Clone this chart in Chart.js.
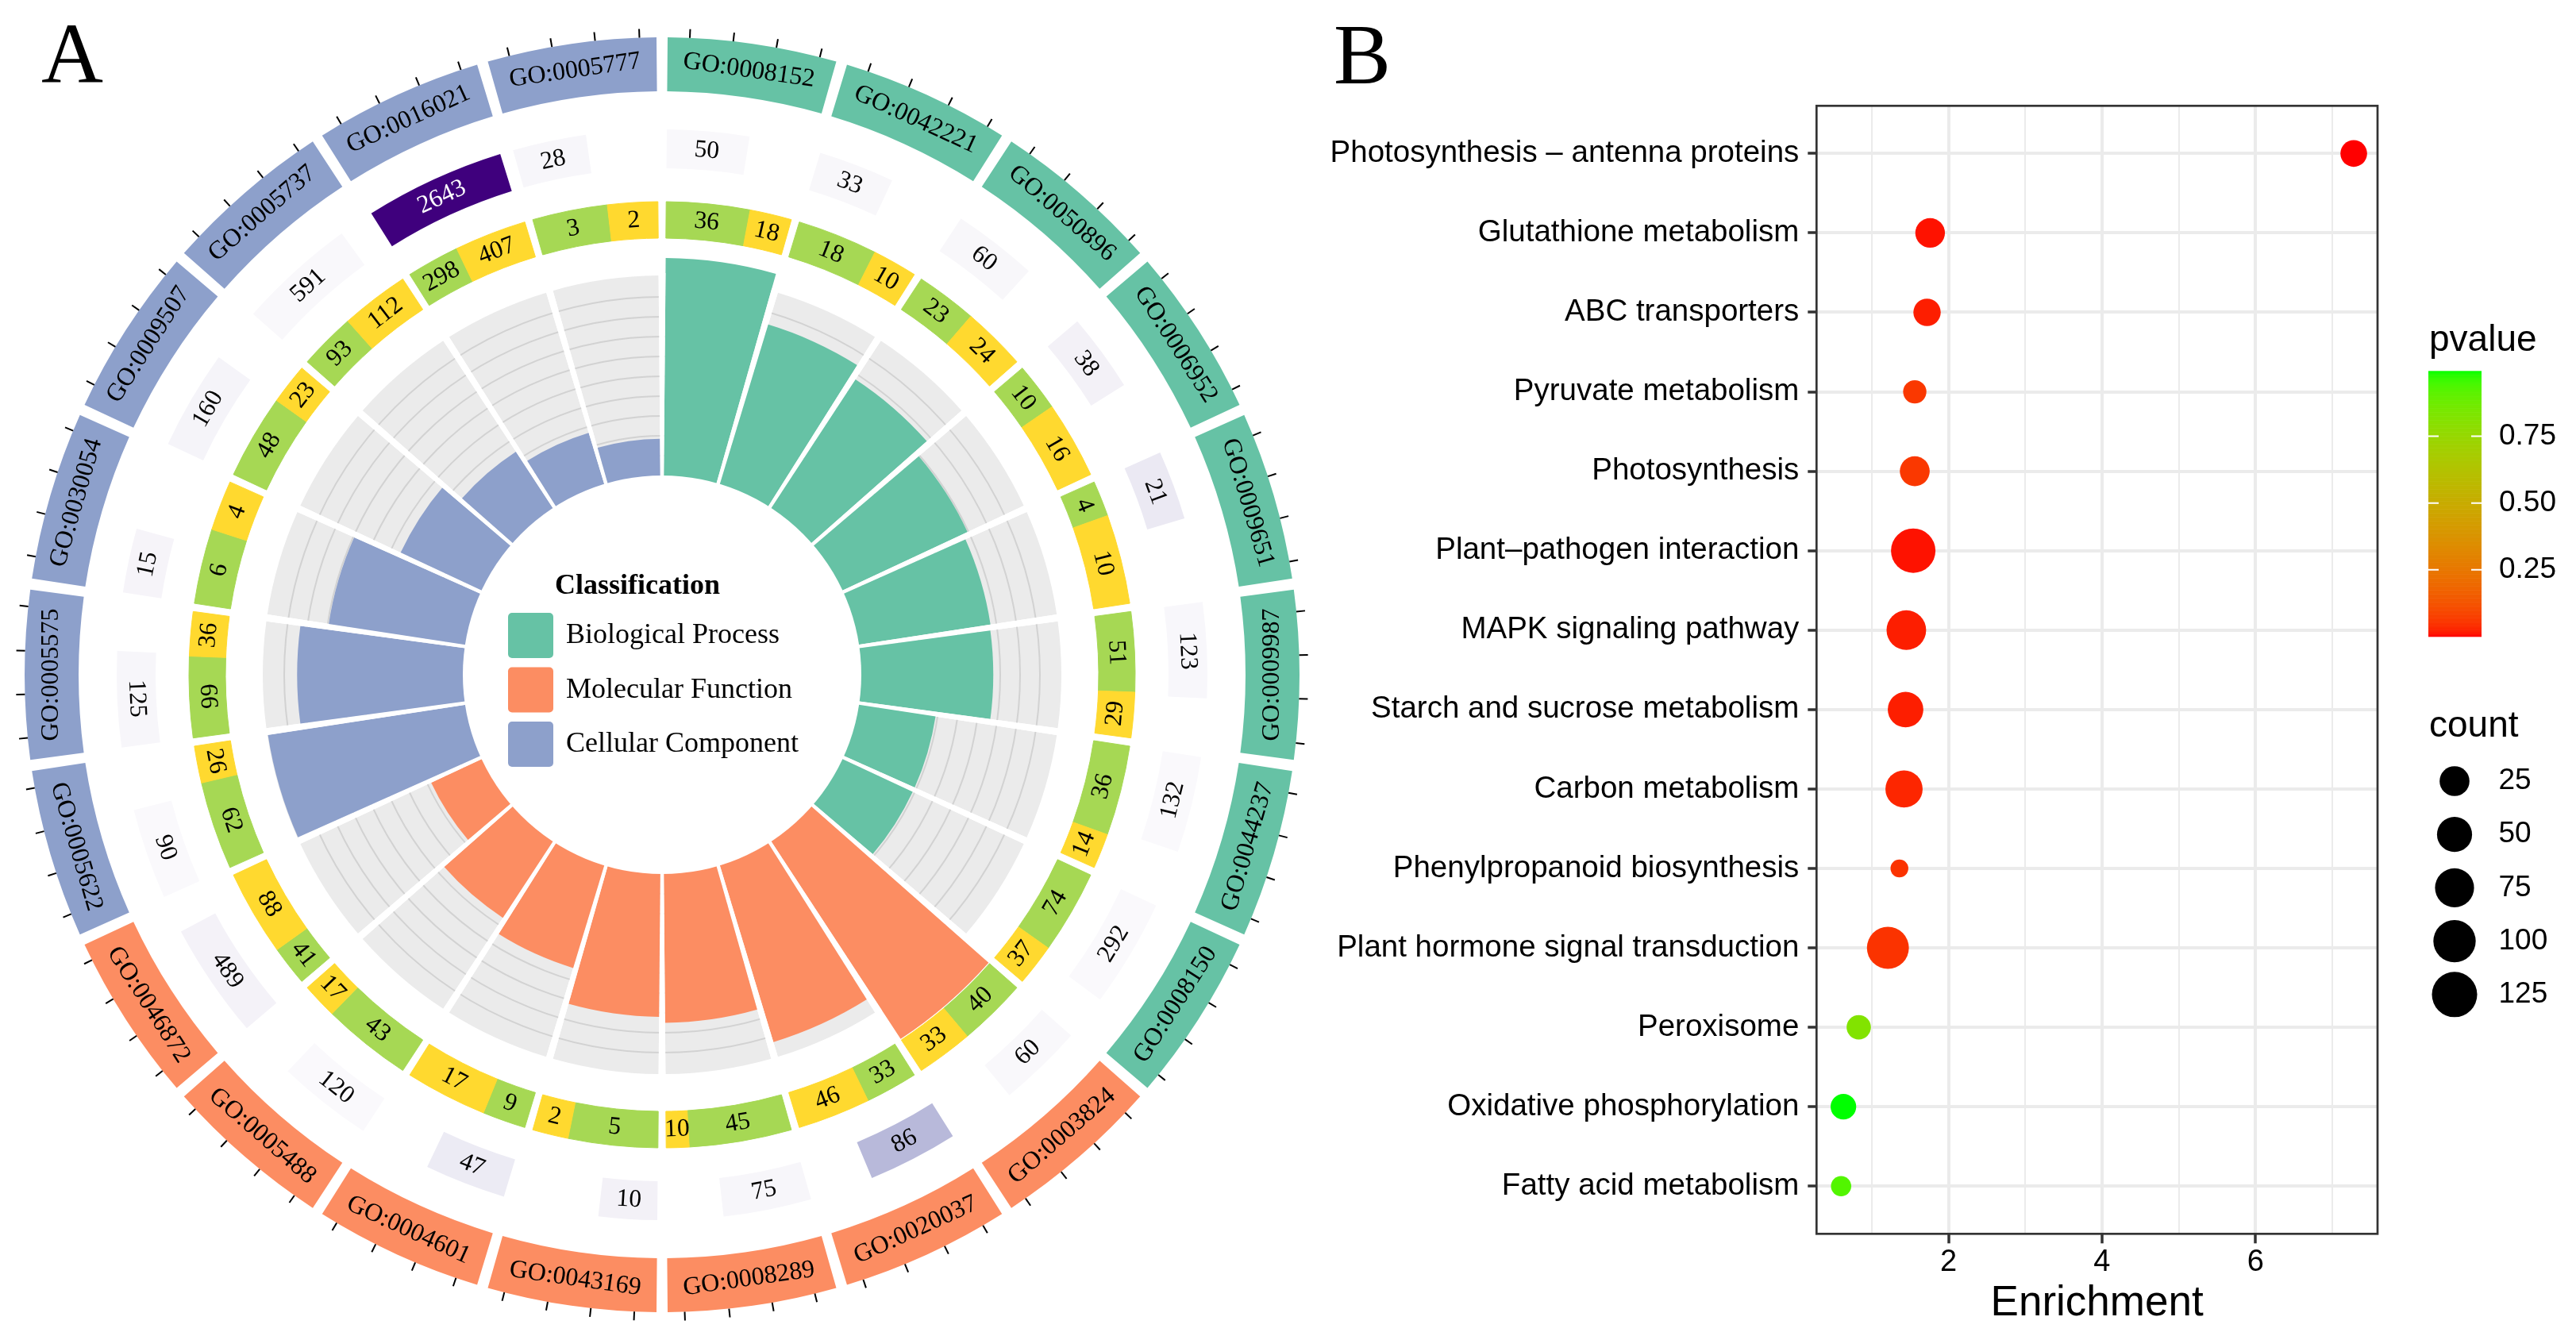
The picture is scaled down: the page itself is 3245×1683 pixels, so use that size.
<!DOCTYPE html>
<html><head><meta charset="utf-8">
<script src="https://cdn.jsdelivr.net/npm/chart.js@4.4.1/dist/chart.umd.min.js"></script>
<style>
html,body{margin:0;padding:0;background:#fff;}
#wrap{position:relative;width:3245px;height:1683px;overflow:hidden;background:#fff;}
canvas{position:absolute;}
.lbl{position:absolute;font-family:"Liberation Serif","Times New Roman",serif;font-size:108px;line-height:1;color:#000;}
</style></head><body>
<div id="wrap">
<canvas id="ringA" width="1668" height="1700" style="left:0;top:0;width:1668px;height:1700px"></canvas>
<canvas id="barA" width="1668" height="1700" style="left:0;top:0;width:1668px;height:1700px"></canvas>
<canvas id="dotB" width="1595" height="1683" style="left:1650px;top:0;width:1595px;height:1683px"></canvas>
<div class="lbl" style="left:52px;top:14px">A</div>
<div class="lbl" style="left:1680px;top:15px">B</div>
</div>
<script>
// ---------------- Panel A data ----------------
const goTerms = ['GO:0008152','GO:0042221','GO:0050896','GO:0006952','GO:0009651','GO:0009987','GO:0044237','GO:0008150',
  'GO:0003824','GO:0020037','GO:0008289','GO:0043169','GO:0004601','GO:0005488','GO:0046872',
  'GO:0005622','GO:0005575','GO:0030054','GO:0009507','GO:0005737','GO:0016021','GO:0005777'];
const goClass = ['BP','BP','BP','BP','BP','BP','BP','BP','MF','MF','MF','MF','MF','MF','MF','CC','CC','CC','CC','CC','CC','CC'];
const classNames = ['Biological Process','Molecular Function','Cellular Component'];
const termCounts = [50,33,60,38,21,123,132,292, 60,86,75,10,47,120,489, 90,125,15,160,591,2643,28];
const countShade = [0.03,0.04,0.04,0.09,0.15,0.035,0.02,0.02, 0.03,0.39,0.045,0.09,0.14,0.015,0.08, 0.015,0.045,0.06,0.065,0.03,1.0,0.045];
const upCounts   = [36,18,23,10,4,51,36,74, 40,33,45,5,9,43,41, 62,66,6,48,93,298,3];
const downCounts = [18,10,24,16,10,29,14,37, 33,46,10,2,17,17,88, 26,36,4,23,112,407,2];
const barValues  = [10.96,8.4,7.75,6.95,6.7,6.65,3.9,3.9, 11.9,9.3,7.5,7.2,5.4,4.6,2.8, 10.05,8.35,6.95,4.5,3.4,2.7,1.85];

// ---------------- Panel B data ----------------
const pathways = ['Photosynthesis – antenna proteins','Glutathione metabolism','ABC transporters','Pyruvate metabolism',
  'Photosynthesis','Plant–pathogen interaction','MAPK signaling pathway','Starch and sucrose metabolism',
  'Carbon metabolism','Phenylpropanoid biosynthesis','Plant hormone signal transduction','Peroxisome',
  'Oxidative phosphorylation','Fatty acid metabolism'];
const enrichment = [7.28,1.76,1.72,1.56,1.56,1.54,1.45,1.44,1.42,1.36,1.21,0.83,0.63,0.60];
const geneCount  = [14,24,16,6,25,118,79,53,63,1,97,8,11,2];
const pvalue     = [0.001,0.01,0.02,0.06,0.06,0.01,0.02,0.02,0.03,0.05,0.05,0.82,0.994,0.93];
const pBreaks = [0.25,0.50,0.75];
const countBreaks = [25,50,75,100,125];
const xTickValues = [1,2,3,4,5,6,7];

// ---------------- styles ----------------
const classColor = {BP:'#66C2A5', MF:'#FC8D62', CC:'#8DA0CB'};
const upColor = '#A6D854', downColor = '#FFD92F', bgGray = '#EBEBEB';
const SERIF = '"Liberation Serif","Times New Roman",serif';
const SANS = '"Liberation Sans",Arial,Helvetica,sans-serif';
const TRANSP = 'rgba(0,0,0,0)';
const N = goTerms.length, S = 360 / N, GAPDEG = 1, g = GAPDEG / S;
const R_OUT = 803, R_IN = 251, UNIT = 25, HALF = 834;

const purples = ['#FCFBFD','#EFEDF5','#DADAEB','#BCBDDC','#9E9AC8','#807DBA','#6A51A3','#54278F','#3F007D'];
function hex2rgb(h){return [parseInt(h.substr(1,2),16),parseInt(h.substr(3,2),16),parseInt(h.substr(5,2),16)];}
function purpleAt(t){
  t = Math.max(0, Math.min(1, t)); const p = t * (purples.length - 1); const i = Math.min(Math.floor(p), purples.length - 2); const f = p - i;
  const a = hex2rgb(purples[i]), b = hex2rgb(purples[i+1]);
  return 'rgb(' + a.map((v,j)=>Math.round(v + (b[j]-v)*f)).join(',') + ')';
}
function boxFrac(c){ return Math.min(0.98, 0.17 + 0.235 * Math.log10(c)); }

// Lab gradient red -> green (ggplot style)
function s2l(c){c/=255;return c<=0.04045?c/12.92:Math.pow((c+0.055)/1.055,2.4);}
function l2s(c){const v=c<=0.0031308?12.92*c:1.055*Math.pow(c,1/2.4)-0.055;return Math.round(Math.max(0,Math.min(1,v))*255);}
function rgb2lab(rgb){const R=s2l(rgb[0]),G=s2l(rgb[1]),B=s2l(rgb[2]);
  const X=(R*0.4124+G*0.3576+B*0.1805)/0.95047,Y=(R*0.2126+G*0.7152+B*0.0722),Z=(R*0.0193+G*0.1192+B*0.9505)/1.08883;
  const f=t=>t>0.008856?Math.cbrt(t):(7.787*t+16/116);return [116*f(Y)-16,500*(f(X)-f(Y)),200*(f(Y)-f(Z))];}
function lab2rgb(lab){const fy=(lab[0]+16)/116,fx=fy+lab[1]/500,fz=fy-lab[2]/200;
  const fi=t=>{const t3=t*t*t;return t3>0.008856?t3:(t-16/116)/7.787;};
  const X=fi(fx)*0.95047,Y=fi(fy),Z=fi(fz)*1.08883;
  return [l2s(3.2406*X-1.5372*Y-0.4986*Z),l2s(-0.9689*X+1.8758*Y+0.0415*Z),l2s(0.0557*X-0.2040*Y+1.0570*Z)];}
const LAB_LO = rgb2lab([255,0,0]), LAB_HI = rgb2lab([0,255,0]);
const P_MIN = Math.min(...pvalue), P_MAX = Math.max(...pvalue);
function pColor(p){const t=Math.max(0,Math.min(1,(p-P_MIN)/(P_MAX-P_MIN)));
  const c=lab2rgb(LAB_LO.map((v,i)=>v+(LAB_HI[i]-v)*t));return 'rgb('+c.join(',')+')';}
const C_MIN = Math.min(...geneCount);
function sizePx(c){ return 22.4 + 3.11*Math.sqrt(Math.max(0, c - C_MIN)); }

// ---------------- ring chart (doughnut) ----------------
const dsGO = {data:[], backgroundColor:[], borderWidth:0, weight:68};
const dsCount = {data:[], backgroundColor:[], borderWidth:0, weight:49};
const dsSplit = {data:[], backgroundColor:[], borderColor:[], borderWidth:1, weight:46};
const dsGray = {data:[], backgroundColor:[], borderWidth:0, weight:252};
goTerms.forEach((t,k)=>{
  dsGO.data.push(1-g, g); dsGO.backgroundColor.push(classColor[goClass[k]], TRANSP);
  const f = boxFrac(termCounts[k]);
  dsCount.data.push((1-g)*f, (1-g)*(1-f), g); dsCount.backgroundColor.push(purpleAt(countShade[k]), TRANSP, TRANSP);
  const tot = upCounts[k] + downCounts[k];
  dsSplit.data.push((1-g)*upCounts[k]/tot, (1-g)*downCounts[k]/tot, g);
  dsSplit.backgroundColor.push(upColor, downColor, TRANSP); dsSplit.borderColor.push(upColor, downColor, TRANSP);
  dsGray.data.push(1-g, g); dsGray.backgroundColor.push(bgGray, TRANSP);
});
const spacer = w => ({data:[1], backgroundColor:[TRANSP], borderWidth:0, weight:w});

function tangentText(ctx, cx, cy, r, phi, text){
  let th = phi + Math.PI/2; th = ((th % (2*Math.PI)) + 2*Math.PI) % (2*Math.PI);
  let rot = th;
  if (th >= Math.PI/2 - 0.01 && th < 3*Math.PI/2 - 0.01) rot += Math.PI;
  ctx.save(); ctx.translate(cx + r*Math.cos(phi), cy + r*Math.sin(phi)); ctx.rotate(rot);
  ctx.textAlign = 'center'; ctx.textBaseline = 'middle'; ctx.fillText(text, 0, 0); ctx.restore();
}
const tickFracs = [0.13, 0.385, 0.64, 0.9];
const ringText = {
  id:'ringText',
  afterDatasetsDraw(chart){
    const ctx = chart.ctx;
    const m0 = chart.getDatasetMeta(0).data, m2 = chart.getDatasetMeta(2).data, m4 = chart.getDatasetMeta(4).data;
    ctx.save();
    goTerms.forEach((t,k)=>{
      const e = m0[2*k];
      ctx.fillStyle = '#000'; ctx.font = '32px ' + SERIF;
      tangentText(ctx, e.x, e.y, (e.innerRadius+e.outerRadius)/2, (e.startAngle+e.endAngle)/2, t);
      ctx.strokeStyle = '#000'; ctx.lineWidth = 2;
      tickFracs.forEach(f=>{
        const a = e.startAngle + f*(e.endAngle - e.startAngle);
        ctx.beginPath();
        ctx.moveTo(e.x + e.outerRadius*Math.cos(a), e.y + e.outerRadius*Math.sin(a));
        ctx.lineTo(e.x + (e.outerRadius+11)*Math.cos(a), e.y + (e.outerRadius+11)*Math.sin(a));
        ctx.stroke();
      });
      const b = m2[3*k];
      ctx.fillStyle = countShade[k] > 0.6 ? '#fff' : '#000'; ctx.font = '31.5px ' + SERIF;
      tangentText(ctx, b.x, b.y, (b.innerRadius+b.outerRadius)/2, (b.startAngle+b.endAngle)/2, String(termCounts[k]));
      ctx.fillStyle = '#000';
      const u = m4[3*k], d = m4[3*k+1];
      tangentText(ctx, u.x, u.y, (u.innerRadius+u.outerRadius)/2, (u.startAngle+u.endAngle)/2, String(upCounts[k]));
      tangentText(ctx, d.x, d.y, (d.innerRadius+d.outerRadius)/2, (d.startAngle+d.endAngle)/2, String(downCounts[k]));
    });
    ctx.restore();
  }
};
new Chart(document.getElementById('ringA'), {
  type:'doughnut',
  data:{labels: goTerms, datasets:[dsGO, spacer(48), dsCount, spacer(42), dsSplit, spacer(47), dsGray]},
  options:{responsive:false, animation:false, events:[], devicePixelRatio:1,
    radius: R_OUT, cutout: (R_IN/R_OUT*100)+'%', rotation: GAPDEG/2,
    layout:{padding:0}, plugins:{legend:{display:false}, tooltip:{enabled:false}}},
  plugins:[ringText]
});

// ---------------- radial bars (polar area) ----------------
const polarData = [], polarColors = [], polarLabels = [];
goTerms.forEach((t,k)=>{
  polarData.push(barValues[k], 10.2); polarColors.push(classColor[goClass[k]], '#ffffff');
  polarLabels.push(t, '');
});
const RMIN = -R_IN/UNIT, RMAX = RMIN + HALF/UNIT;
const centerLegend = {
  id:'centerLegend',
  afterDatasetsDraw(chart){
    const sc = chart.scales.r, ctx = chart.ctx, cx = sc.xCenter, cy = sc.yCenter;
    ctx.save();
    ctx.fillStyle = '#fff'; ctx.beginPath(); ctx.arc(cx, cy, R_IN, 0, 2*Math.PI); ctx.fill();
    ctx.fillStyle = '#000'; ctx.textAlign = 'left'; ctx.textBaseline = 'alphabetic';
    ctx.font = 'bold 36px ' + SERIF; ctx.fillText('Classification', cx - 135, cy - 102);
    const cols = [classColor.BP, classColor.MF, classColor.CC];
    classNames.forEach((nm,i)=>{
      const top = cy - 78 + i*68.5;
      ctx.fillStyle = cols[i]; ctx.beginPath();
      if (ctx.roundRect) ctx.roundRect(cx - 194, top, 57, 57, 5); else ctx.rect(cx - 194, top, 57, 57);
      ctx.fill();
      ctx.fillStyle = '#000'; ctx.font = '36px ' + SERIF; ctx.fillText(nm, cx - 121, top + 38);
    });
    ctx.restore();
  }
};
new Chart(document.getElementById('barA'), {
  type:'polarArea',
  data:{labels: polarLabels, datasets:[{data: polarData, backgroundColor: polarColors, borderWidth:0,
    angle: c => (c.dataIndex % 2 === 0 ? S*(1-g) : S*g)}]},
  options:{responsive:false, animation:false, events:[], devicePixelRatio:1, layout:{padding:0},
    plugins:{legend:{display:false}, tooltip:{enabled:false}},
    scales:{r:{min:RMIN, max:RMAX, startAngle: GAPDEG/2, beginAtZero:false,
      ticks:{display:false}, angleLines:{display:false}, pointLabels:{display:false},
      grid:{circular:true, color:'#D2D2D2', lineWidth:2},
      afterBuildTicks: s => { s.ticks = [1,2,3,4,5,6,7,8,9].map(v=>({value:v})); }}}},
  plugins:[centerLegend]
});

// ---------------- Panel B (bubble) ----------------
const OFFX = 1650;
const panelB = {
  id:'panelB',
  afterDraw(chart){
    const ctx = chart.ctx, a = chart.chartArea;
    ctx.save();
    ctx.strokeStyle = '#333333'; ctx.lineWidth = 2.7; ctx.strokeRect(a.left, a.top, a.right - a.left, a.bottom - a.top);
    // colour bar
    const bx = 3059 - OFFX, bw = 67, btop = 467.3, bbot = 801.7, nb = 200;
    for (let i = 0; i < nb; i++){
      const p = P_MIN + (P_MAX - P_MIN)*(i + 0.5)/nb;
      const y0 = bbot - (bbot - btop)*(i+1)/nb;
      ctx.fillStyle = pColor(p); ctx.fillRect(bx, y0, bw, (bbot-btop)/nb + 0.6);
    }
    ctx.fillStyle = '#000'; ctx.textAlign = 'left'; ctx.textBaseline = 'alphabetic';
    ctx.font = '46px ' + SANS; ctx.fillText('pvalue', 3060 - OFFX, 441.7);
    ctx.font = '37px ' + SANS; ctx.textBaseline = 'middle';
    pBreaks.forEach(p=>{
      const y = bbot - (p - P_MIN)/(P_MAX - P_MIN)*(bbot - btop);
      ctx.strokeStyle = '#fff'; ctx.lineWidth = 2;
      ctx.beginPath(); ctx.moveTo(bx, y); ctx.lineTo(bx + 13, y); ctx.moveTo(bx + bw - 13, y); ctx.lineTo(bx + bw, y); ctx.stroke();
      ctx.fillStyle = '#000'; ctx.fillText(p.toFixed(2), 3148 - OFFX, y);
    });
    // size legend
    ctx.textBaseline = 'alphabetic'; ctx.font = '46px ' + SANS; ctx.fillText('count', 3060 - OFFX, 928);
    ctx.font = '37px ' + SANS; ctx.textBaseline = 'middle';
    countBreaks.forEach((c,i)=>{
      const y = 984 + i*67.2;
      ctx.fillStyle = '#000'; ctx.beginPath(); ctx.arc(3092 - OFFX, y, sizePx(c)/2, 0, 2*Math.PI); ctx.fill();
      ctx.fillText(String(c), 3147.5 - OFFX, y);
    });
    ctx.restore();
  }
};
new Chart(document.getElementById('dotB'), {
  type:'bubble',
  data:{datasets:[{data: pathways.map((p,i)=>({x: enrichment[i], y: i+1, r: sizePx(geneCount[i])/2})),
    backgroundColor: pvalue.map(pColor), borderWidth:0, hoverRadius:0}]},
  options:{responsive:false, animation:false, events:[], devicePixelRatio:1,
    layout:{padding:{left:0, right:250, top:133.3, bottom:0}},
    plugins:{legend:{display:false}, tooltip:{enabled:false}},
    scales:{
      x:{type:'linear', min:0.28, max:7.59,
        afterBuildTicks: s => { s.ticks = xTickValues.map(v=>({value:v})); },
        afterFit: s => { s.height = 128.7; },
        border:{display:false},
        grid:{color:'#EBEBEB', lineWidth: c => (c.tick && c.tick.value % 2 === 0 ? 4 : 2),
          tickColor: c => (c.tick && c.tick.value % 2 === 0 ? '#333333' : TRANSP), tickWidth:3.5, tickLength:12, drawTicks:true},
        ticks:{callback: v => (v % 2 === 0 ? String(v) : ''), font:{family:SANS, size:38}, color:'#000', padding:1, maxRotation:0, autoSkip:false},
        title:{display:true, text:'Enrichment', font:{family:SANS, size:53, lineHeight:1}, color:'#000', padding:{top:14, bottom:14}}},
      y:{type:'linear', reverse:true, min:0.4, max:14.6,
        afterBuildTicks: s => { s.ticks = pathways.map((p,i)=>({value:i+1})); },
        afterFit: s => { s.width = 638.3; },
        border:{display:false},
        grid:{color:'#EBEBEB', lineWidth:4, tickColor:'#333333', tickWidth:3.5, tickLength:11, drawTicks:true},
        ticks:{callback: v => pathways[Math.round(v)-1] || '', font:{family:SANS, size:38.5}, color:'#000', padding:11, autoSkip:false}}
    }},
  plugins:[panelB]
});
</script>
</body></html>
